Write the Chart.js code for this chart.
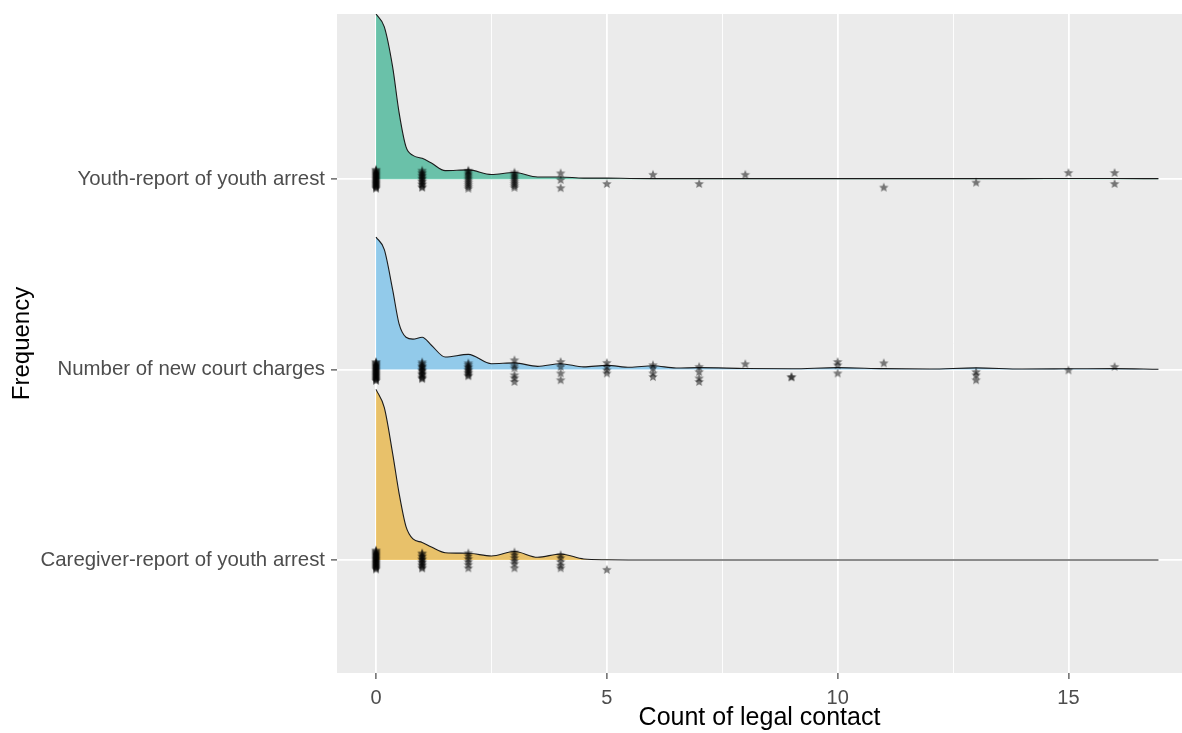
<!DOCTYPE html>
<html>
<head>
<meta charset="utf-8">
<script src="https://cdn.jsdelivr.net/npm/chart.js@4"></script>
<style>
    body { margin: 0; background: #fff; overflow: hidden; }
    canvas { display: block; }
</style>
</head>
<body>
<canvas id="ridges" width="1182" height="733"></canvas>
<script>
// rows, bottom to top
const categories = ['Caregiver-report of youth arrest', 'Number of new court charges', 'Youth-report of youth arrest'];
const xTicks = [0, 5, 10, 15];
const xMinor = [2.5, 7.5, 12.5];

// density heights (in row units) sampled at densX
const densX = [0, 0.18, 0.36, 0.5, 0.65, 0.8, 1, 1.2, 1.5, 2, 2.5, 3, 3.5, 4, 4.5, 5, 5.5, 6, 6.5, 7, 8, 9, 10, 11, 12, 13, 14, 15, 16, 16.95];
const caregiverDens = [0.896, 0.80, 0.56, 0.35, 0.175, 0.11, 0.092, 0.068, 0.038, 0.035, 0.021, 0.044, 0.014, 0.031, 0.005, 0.001, 0, 0, 0, 0, 0, 0, 0, 0, 0, 0, 0, 0, 0, 0];
const chargesDens = [0.696, 0.63, 0.42, 0.24, 0.17, 0.16, 0.17, 0.128, 0.066, 0.08, 0.031, 0.035, 0.017, 0.031, 0.014, 0.022, 0.012, 0.02, 0.008, 0.01, 0.006, 0.004, 0.01, 0.005, 0.003, 0.009, 0.003, 0.004, 0.005, 0.002];
const youthDens = [0.868, 0.80, 0.59, 0.35, 0.17, 0.125, 0.11, 0.085, 0.045, 0.049, 0.025, 0.035, 0.012, 0.012, 0.006, 0.006, 0.004, 0.003, 0.003, 0.003, 0.003, 0.003, 0.003, 0.003, 0.003, 0.003, 0.003, 0.004, 0.004, 0.003];

// raw counts: each value with the vertical jitter of every observation at it
const caregiverValues = [0, 1, 2, 3, 4, 5];
const caregiverJitter = [
    [-0.05,-0.045,-0.04,-0.035,-0.03,-0.025,-0.02,-0.015,-0.01,-0.005,0,0.005,0.01,0.015,0.02,0.025,0.03,0.035,0.04,0.045,0.05],
    [-0.045,-0.04,-0.03,-0.025,-0.015,-0.01,0,0.005,0.015,0.02,0.03,0.035],
    [0.035,0.02,0.005,-0.01,-0.025,-0.044],
    [0.04,0.025,0.01,-0.005,-0.02,-0.044],
    [0.025,0.01,-0.01,-0.03,-0.044],
    [-0.052]
];

const chargesValues = [0, 1, 2, 3, 4, 5, 6, 7, 8, 9, 10, 11, 13, 15, 16];
const chargesJitter = [
    [-0.06,-0.055,-0.05,-0.045,-0.04,-0.035,-0.03,-0.025,-0.02,-0.015,-0.01,-0.005,0,0.005,0.01,0.015,0.02,0.025,0.03,0.035,0.04],
    [-0.05,-0.045,-0.04,-0.03,-0.025,-0.02,-0.01,-0.005,0,0.01,0.015,0.02,0.03,0.038],
    [-0.035,-0.03,-0.02,-0.015,-0.005,0,0.01,0.015,0.025,0.033],
    [0.049,0.02,0.007,-0.03,-0.045,-0.065],
    [0.04,0.014,-0.02,-0.056],
    [0.035,0.014,-0.004,-0.02],
    [0.023,0.007,-0.02,-0.039],
    [0.014,-0.013,-0.046,-0.065],
    [0.028],
    [-0.04,-0.04],
    [0.04,0.023,-0.02],
    [0.033],
    [-0.013,-0.03,-0.056],
    [-0.004],
    [0.014]
];

const youthValues = [0, 1, 2, 3, 4, 5, 6, 7, 8, 11, 13, 15, 16];
const youthJitter = [
    [-0.05,-0.045,-0.04,-0.035,-0.03,-0.025,-0.02,-0.015,-0.01,-0.005,0,0.005,0.01,0.015,0.02,0.025,0.03,0.035,0.04,0.045,0.05],
    [-0.045,-0.04,-0.03,-0.025,-0.015,-0.01,0,0.005,0.015,0.02,0.03,0.035,0.045],
    [-0.05,-0.04,-0.03,-0.02,-0.01,0,0.01,0.02,0.03,0.04,0.045],
    [-0.045,-0.035,-0.025,-0.015,-0.005,0.005,0.015,0.025,0.035],
    [-0.047,-0.004,0.031],
    [-0.025],
    [0.023],
    [-0.025],
    [0.023],
    [-0.044],
    [-0.018],
    [0.033],
    [0.033,-0.025]
];

Chart.defaults.font.family = "'Liberation Sans', Arial, sans-serif";

// small filled star used for the raw points
function starSprite(r) {
    const c = document.createElement('canvas');
    const s = Math.ceil(r * 2 + 2);
    c.width = s;
    c.height = s;
    const g = c.getContext('2d');
    g.translate(s / 2, s / 2);
    g.beginPath();
    for (let i = 0; i < 10; i++) {
        const rad = i % 2 ? r * 0.45 : r;
        const a = -Math.PI / 2 + i * Math.PI / 5;
        g.lineTo(rad * Math.cos(a), rad * Math.sin(a));
    }
    g.closePath();
    g.fillStyle = 'rgba(0,0,0,0.5)';
    g.fill();
    return c;
}
const star = starSprite(5);

function ridge(heights, base, color, order) {
    return {
        type: 'line',
        data: densX.map((x, i) => ({ x: x, y: base + heights[i] })),
        borderColor: '#1a1a1a',
        borderWidth: 1.1,
        backgroundColor: color,
        fill: { value: base },
        pointRadius: 0,
        cubicInterpolationMode: 'monotone',
        order: order
    };
}

function jitterPoints(values, jitter, base) {
    let pts = [];
    values.forEach((v, i) => {
        jitter[i].forEach(d => pts.push({ x: v, y: base + d }));
    });
    return {
        type: 'scatter',
        data: pts,
        pointStyle: star,
        pointRadius: 5,
        order: 0
    };
}

const panelBg = {
    id: 'panelBg',
    beforeDraw(chart) {
        const { ctx, chartArea: a } = chart;
        ctx.save();
        ctx.fillStyle = '#EBEBEB';
        ctx.fillRect(a.left, a.top, a.right - a.left, a.bottom - a.top);
        ctx.restore();
    }
};

const isMinor = ctx => ctx.tick && xMinor.includes(ctx.tick.value);

new Chart(document.getElementById('ridges'), {
    type: 'scatter',
    data: {
        datasets: [
            ridge(youthDens, 3, 'rgba(0,158,115,0.55)', 5),
            ridge(chargesDens, 2, 'rgba(86,180,233,0.6)', 4),
            ridge(caregiverDens, 1, 'rgba(230,159,0,0.55)', 3),
            jitterPoints(youthValues, youthJitter, 3),
            jitterPoints(chargesValues, chargesJitter, 2),
            jitterPoints(caregiverValues, caregiverJitter, 1)
        ]
    },
    options: {
        responsive: false,
        animation: false,
        devicePixelRatio: 1,
        layout: { autoPadding: false, padding: { top: 14, right: 0, left: 0, bottom: 0 } },
        plugins: { legend: { display: false }, tooltip: { enabled: false } },
        scales: {
            x: {
                type: 'linear',
                min: -0.845,
                max: 17.46,
                afterBuildTicks: s => { s.ticks = xTicks.concat(xMinor).sort((a, b) => a - b).map(v => ({ value: v })); },
                ticks: {
                    callback: v => xTicks.includes(v) ? String(v) : '',
                    color: '#4D4D4D',
                    font: { size: 20 },
                    padding: 7,
                    maxRotation: 0,
                    autoSkip: false
                },
                grid: {
                    color: '#fff',
                    lineWidth: ctx => isMinor(ctx) ? 0.9 : 1.8,
                    tickColor: ctx => isMinor(ctx) ? 'rgba(0,0,0,0)' : '#333',
                    tickWidth: 1.1,
                    tickLength: 6
                },
                border: { display: false },
                title: { display: true, text: 'Count of legal contact', color: '#000', font: { size: 25 }, padding: 0 },
                afterFit: s => { s.height = 60; s.paddingLeft = 0; s.paddingRight = 0; }
            },
            y: {
                type: 'linear',
                min: 0.406,
                max: 3.868,
                afterBuildTicks: s => { s.ticks = [1, 2, 3].map(v => ({ value: v })); },
                ticks: {
                    callback: v => categories[v - 1],
                    color: '#4D4D4D',
                    font: { size: 20.4 },
                    padding: 6
                },
                grid: { color: '#fff', lineWidth: 1.8, tickColor: '#333', tickWidth: 1.1, tickLength: 6 },
                border: { display: false },
                title: { display: true, text: 'Frequency', color: '#000', font: { size: 24 }, padding: { top: 8, bottom: 0 } },
                afterFit: s => { s.width = 337; s.paddingTop = 0; s.paddingBottom = 0; }
            }
        }
    },
    plugins: [panelBg]
});
</script>
</body>
</html>
